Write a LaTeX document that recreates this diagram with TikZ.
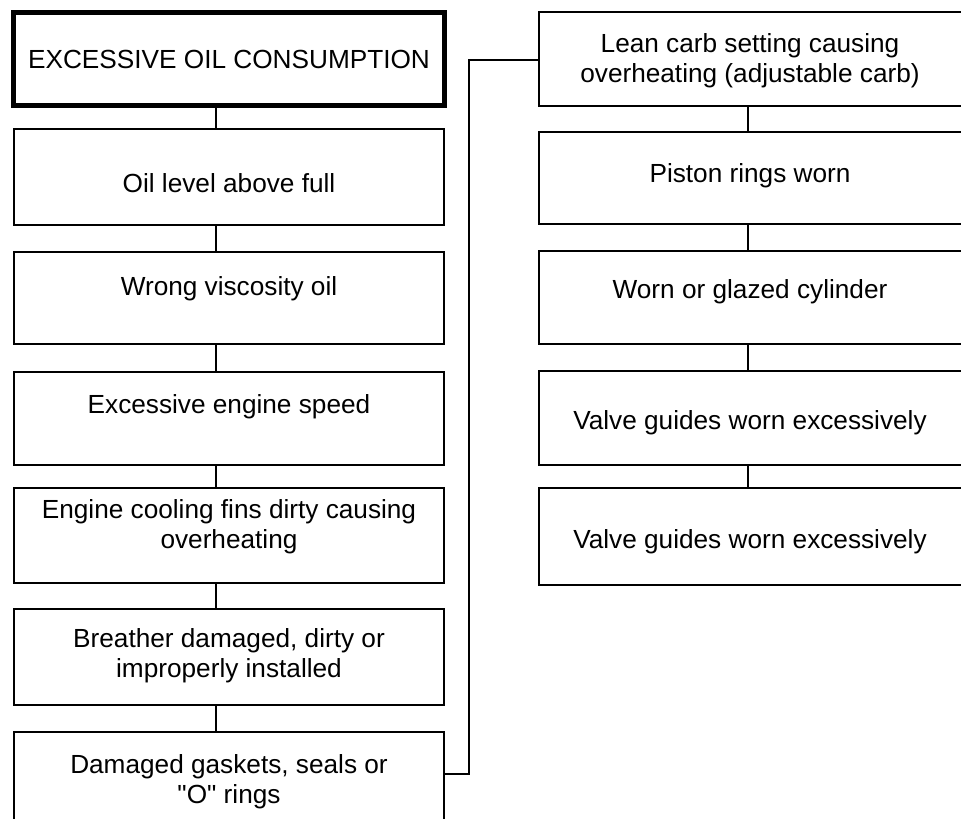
\documentclass[tikz,border=0pt]{standalone}
\usepackage{fontspec}
\setmainfont{Liberation Sans}
\newfontfamily\qfont{Liberation Sans}[Ligatures=TeXOff]
\usetikzlibrary{calc}
\begin{document}
\begin{tikzpicture}[x=1pt,y=-1pt,
  bx/.style={draw, line width=2pt, inner sep=0pt, outer sep=0pt, minimum width=430pt},
  rbx/.style={bx, minimum width=424pt},
  txt/.style={font=\fontsize{26.2}{30}\selectfont, align=center, inner sep=0pt, anchor=base},
  cn/.style={line width=2pt}]
\useasboundingbox (0,0) rectangle (961,819);
% left column boxes
\node[bx, line width=5pt, minimum width=431.5pt, minimum height=93.2pt] (l1) at (228.75,59.1) {};
\node[bx, minimum height=96pt] (l2) at (229.2,177) {};
\node[bx, minimum height=92pt] (l3) at (229.2,298) {};
\node[bx, minimum height=93pt] (l4) at (229.2,418.5) {};
\node[bx, minimum height=95pt] (l5) at (229.2,535.5) {};
\node[bx, minimum height=96pt] (l6) at (229.2,657) {};
\node[bx, minimum height=96pt] (l7) at (229.2,780) {};
% right column boxes
\node[rbx, minimum height=94pt] (r1) at (751,59) {};
\node[rbx, minimum height=92pt] (r2) at (751,178) {};
\node[rbx, minimum height=92.5pt] (r3) at (751,297.25) {};
\node[rbx, minimum height=94pt] (r4) at (751,418) {};
\node[rbx, minimum height=97pt] (r5) at (751,536.5) {};
% texts (anchor=base is the baseline of the last line)
\node[txt] (t1) at (229,68) {EXCESSIVE OIL CONSUMPTION};
\node[txt] (t2) at (229,192) {Oil level above full};
\node[txt] (t3) at (229,295) {Wrong viscosity oil};
\node[txt] (t4) at (229,413) {Excessive engine speed};
\node[txt] (t5) at (229,548) {Engine cooling fins dirty causing\\overheating};
\node[txt] (t6) at (229,677) {Breather damaged, dirty or\\improperly installed};
\node[txt] (t7) at (229,803.5) {Damaged gaskets, seals or\\{\qfont"}O{\qfont"} rings};
\node[txt] (u1) at (750,82) {Lean carb setting causing\\overheating (adjustable carb)};
\node[txt] (u2) at (750,182) {Piston rings worn};
\node[txt] (u3) at (750,298) {Worn or glazed cylinder};
\node[txt] (u4) at (750,429) {Valve guides worn excessively};
\node[txt] (u5) at (750,548) {Valve guides worn excessively};
% connectors
\coordinate (lc) at (216,0);
\coordinate (rc) at (748,0);
\foreach \a/\b in {l1/l2,l2/l3,l3/l4,l4/l5,l5/l6,l6/l7}
  \draw[cn] (\a.south -| lc) -- (\b.north -| lc);
\foreach \a/\b in {r1/r2,r2/r3,r3/r4,r4/r5}
  \draw[cn] (\a.south -| rc) -- (\b.north -| rc);
\coordinate (jy) at (0,774);
\coordinate (jn) at (469,60);
\draw[cn] (l7.east |- jy) -| (jn) -- (r1.west |- jn);
\end{tikzpicture}
\end{document}
